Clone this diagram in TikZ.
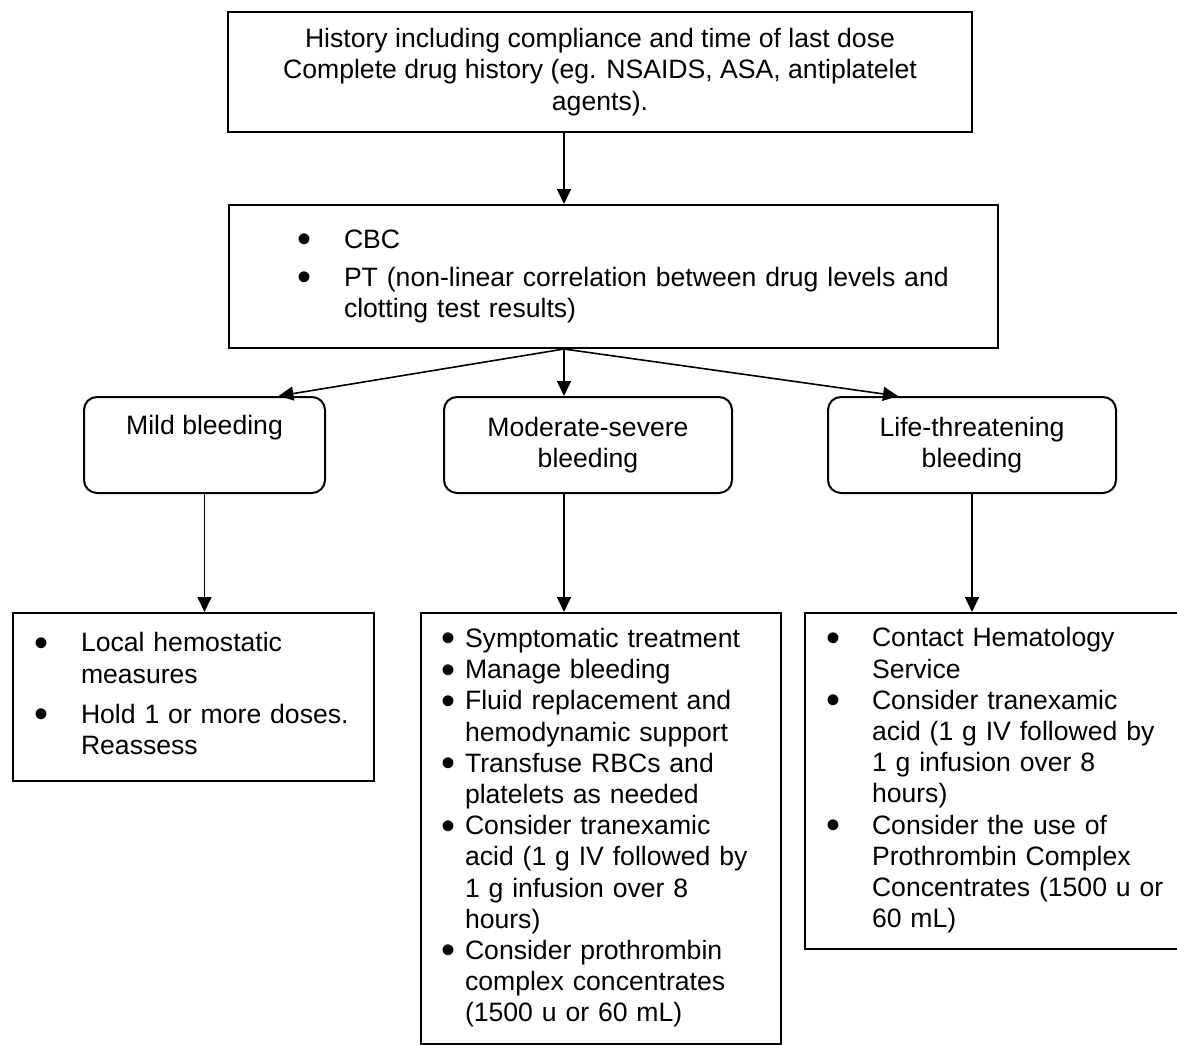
\documentclass[tikz,border=0pt]{standalone}
\usepackage{fontspec}
\setmainfont{Liberation Sans}
\usepackage{graphicx}
\usetikzlibrary{arrows.meta}
\newcommand{\bul}{\raisebox{-4.4pt}[0pt][0pt]{\scalebox{1.5}{\textbullet}}}

\begin{document}
\begin{tikzpicture}[x=1pt, y=-1pt, font=\fontsize{26.6}{31.2}\selectfont]
\tikzstyle{box}=[draw, line width=2pt, inner sep=0pt]
\tikzstyle{list}=[box, anchor=north west, align=left]
\tikzstyle{kind}=[box, rounded corners=13pt, anchor=north, minimum height=96pt, align=center]
\tikzstyle{arr}=[-{Triangle[length=15pt, width=14pt]}, line width=1.6pt]
    \useasboundingbox (0,0) rectangle (1177,1044);
    \node [box, minimum width=744pt, minimum height=120pt, align=center] (h) at (600,72)
        {History including compliance and time of last dose\\
         Complete drug history (eg. NSAIDS, ASA, antiplatelet\\
         agents).};
    \node [list, text width=769pt, minimum height=143pt] (c) at (228,204)
        {\begin{tabular}{@{\hspace{68pt}}p{47pt}@{}l@{}}
            \bul & CBC\\[7pt]
            \bul & PT (non-linear correlation between drug levels and\\
                 & clotting test results)
         \end{tabular}};
    \node [kind, minimum width=241pt, text height=19pt, text depth=40pt] (m) at (204.5,396) {Mild bleeding};
    \node [kind, minimum width=288pt] (s) at (588,396) {Moderate-severe\\bleeding};
    \node [kind, minimum width=288pt] (l) at (972,396) {Life-threatening\\bleeding};
    \node [list, text width=361pt, minimum height=168pt] (p) at (12,612)
        {\begin{tabular}{@{\hspace{21pt}}p{47pt}@{}l@{}}
            \bul & Local hemostatic\\
                 & measures\\[9pt]
            \bul & Hold 1 or more doses.\\
                 & Reassess
         \end{tabular}};
    \node [list, text width=360pt, minimum height=431pt] (q) at (420,612)
        {\begin{tabular}{@{\hspace{20pt}}p{24pt}@{}l@{}}
            \bul & Symptomatic treatment\\
            \bul & Manage bleeding\\
            \bul & Fluid replacement and\\
                 & hemodynamic support\\
            \bul & Transfuse RBCs and\\
                 & platelets as needed\\
            \bul & Consider tranexamic\\
                 & acid (1 g IV followed by\\
                 & 1 g infusion over 8\\
                 & hours)\\
            \bul & Consider prothrombin\\
                 & complex concentrates\\
                 & (1500 u or 60 mL)
         \end{tabular}};
    \node [list, text width=386pt, minimum height=336pt] (r) at (804,612)
        {\begin{tabular}{@{\hspace{21pt}}p{46pt}@{}l@{}}
            \bul & Contact Hematology\\
                 & Service\\
            \bul & Consider tranexamic\\
                 & acid (1 g IV followed by\\
                 & 1 g infusion over 8\\
                 & hours)\\
            \bul & Consider the use of\\
                 & Prothrombin Complex\\
                 & Concentrates (1500 u or\\
                 & 60 mL)
         \end{tabular}};
    \coordinate (k) at (564,0);
    \draw [arr] (k |- h.south) -- (k |- c.north);
    \draw [arr] (k |- c.south) -- ([xshift=74pt]m.north);
    \draw [arr] (k |- c.south) -- (k |- s.north);
    \draw [arr] (k |- c.south) -- ([xshift=-74pt]l.north);
    \draw [arr] (m.south) -- (m.south |- p.north);
    \draw [arr] (k |- s.south) -- (k |- q.north);
    \draw [arr] (l.south) -- (l.south |- r.north);
\end{tikzpicture}
\end{document}
